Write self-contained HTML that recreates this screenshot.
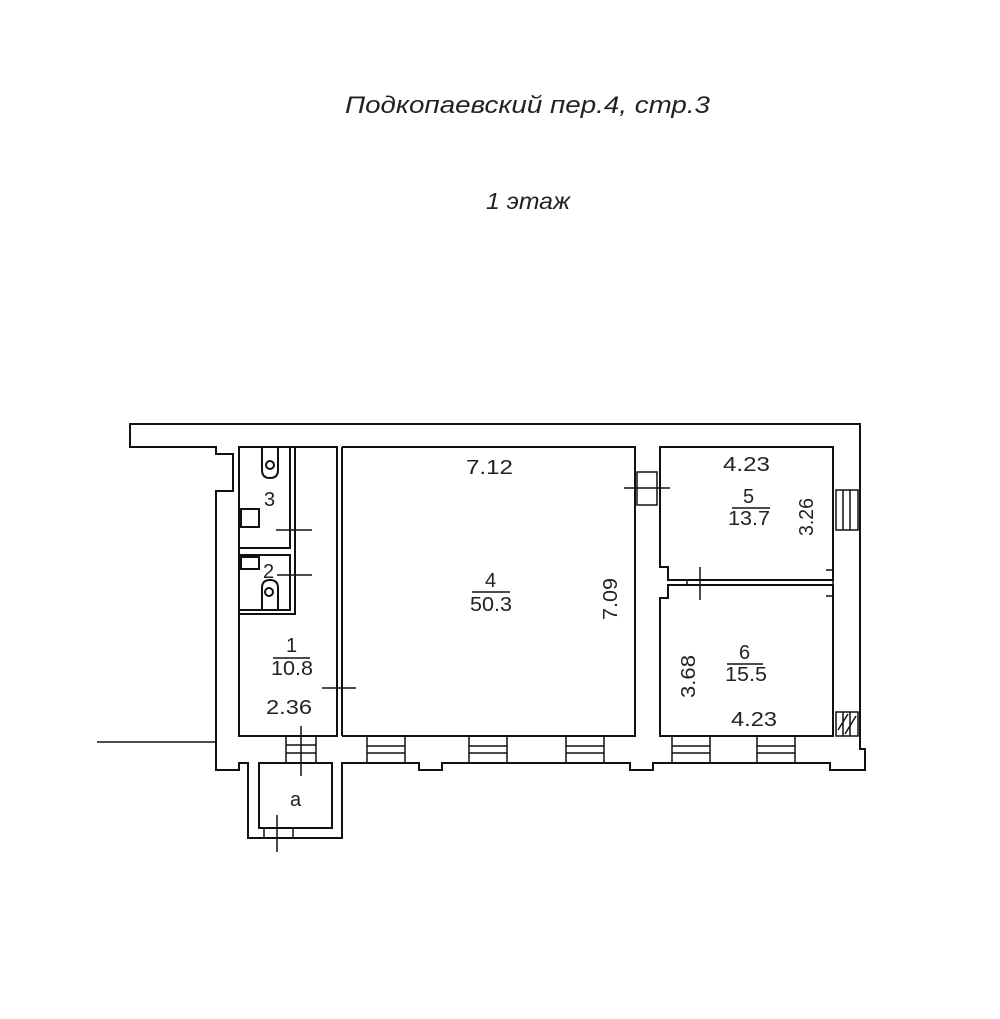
<!DOCTYPE html>
<html><head><meta charset="utf-8"><style>
html,body{margin:0;padding:0;background:#fff;width:1000px;height:1019px;overflow:hidden}
text{font-family:"Liberation Sans",sans-serif;fill:#222}
</style></head><body>
<svg width="1000" height="1019" viewBox="0 0 1000 1019" xmlns="http://www.w3.org/2000/svg">
<text x="345" y="113" font-size="24" font-style="italic" textLength="365" lengthAdjust="spacingAndGlyphs">Подкопаевский пер.4, стр.3</text>
<text x="486" y="209" font-size="23" font-style="italic" textLength="84" lengthAdjust="spacingAndGlyphs">1 этаж</text>
<g fill="none" stroke="#111" stroke-width="2">
<path d="M216,447 H130 V424 H860 V749 H865 V770 H830 V763 H653 V770 H630 V763 H442 V770 H419 V763 H342 V838 H248 V763 H239 V770 H216 V491 H233 V454 H216 Z"/>
<rect x="239" y="447" width="98" height="289"/>
<line x1="342" y1="447" x2="342" y2="736"/>
<path d="M342,447 H635 V736 H342"/>
<path d="M660,567 V447 H833 V580 H668 V567 Z"/>
<path d="M660,598 V736 H833 V585 H668 V598 Z"/>
<rect x="259" y="763" width="73" height="65"/>
<path d="M239,548 H290 V447 M239,555 H290 V610 H239 M295,447 V614 H239"/>
<path d="M262,447 V470 Q262,478 270,478 Q278,478 278,470 V447"/>
<circle cx="270" cy="465" r="4"/>
<path d="M262,610 V588 Q262,580 270,580 Q278,580 278,588 V610"/>
<circle cx="269" cy="592" r="4"/>
<rect x="241" y="509" width="18" height="18"/>
<rect x="241" y="557" width="18" height="12"/>
</g>
<g fill="none" stroke="#111" stroke-width="1.5">
<path d="M290,516 V548 M295,516 V548 M276,530 H312"/>
<path d="M290,555 V590 M295,555 V590 M277,575 H312"/>
<path d="M337,670 V705 M342,670 V705 M322,688 H356"/>
<path d="M637,472 H657 V505 H637 Z M624,488 H670"/>
<path d="M687,580 V585 M700,567 V600 M826,570 H833 V596 H826"/>
<path d="M836,490 H858 V530 H836 Z M843,490 V530 M850,490 V530"/>
<path d="M836,712 H858 V736 H836 Z M843,712 V736 M850,712 V736 M838,730 L848,714 M845,734 L856,716"/>
<path d="M286,736 H316 V763 H286 Z M286,745 H316 M286,753 H316 M301,726 V776"/>
<path d="M367,736 H405 V763 H367 Z M367,746 H405 M367,753 H405"/>
<path d="M469,736 H507 V763 H469 Z M469,746 H507 M469,753 H507"/>
<path d="M566,736 H604 V763 H566 Z M566,746 H604 M566,753 H604"/>
<path d="M672,736 H710 V763 H672 Z M672,746 H710 M672,753 H710"/>
<path d="M757,736 H795 V763 H757 Z M757,746 H795 M757,753 H795"/>
<path d="M264,828 V838 M293,828 V838 M277,815 V852"/>
<line x1="97" y1="742" x2="216" y2="742"/>
</g>
<g font-size="20" lengthAdjust="spacingAndGlyphs">
<text x="264" y="506">3</text>
<text x="263" y="578">2</text>
<text x="286" y="652">1</text>
<text x="271" y="675" textLength="42" lengthAdjust="spacingAndGlyphs">10.8</text>
<line x1="273" y1="658" x2="310" y2="658" stroke="#111" stroke-width="1.5"/>
<text x="266" y="714" textLength="46" lengthAdjust="spacingAndGlyphs">2.36</text>
<text x="290" y="806">a</text>
<text x="466" y="474" textLength="47" lengthAdjust="spacingAndGlyphs">7.12</text>
<text x="485" y="587">4</text>
<text x="470" y="611" textLength="42" lengthAdjust="spacingAndGlyphs">50.3</text>
<line x1="472" y1="592" x2="510" y2="592" stroke="#111" stroke-width="1.5"/>
<text x="0" y="0" transform="translate(617,620) rotate(-90)" textLength="42" lengthAdjust="spacingAndGlyphs">7.09</text>
<text x="723" y="471" textLength="47" lengthAdjust="spacingAndGlyphs">4.23</text>
<text x="743" y="503">5</text>
<text x="728" y="525" textLength="42" lengthAdjust="spacingAndGlyphs">13.7</text>
<line x1="732" y1="508" x2="770" y2="508" stroke="#111" stroke-width="1.5"/>
<text x="0" y="0" transform="translate(813,536) rotate(-90)" textLength="38" lengthAdjust="spacingAndGlyphs">3.26</text>
<text x="739" y="659">6</text>
<text x="725" y="681" textLength="42" lengthAdjust="spacingAndGlyphs">15.5</text>
<line x1="727" y1="664" x2="763" y2="664" stroke="#111" stroke-width="1.5"/>
<text x="0" y="0" transform="translate(695,698) rotate(-90)" textLength="43" lengthAdjust="spacingAndGlyphs">3.68</text>
<text x="731" y="726" textLength="46" lengthAdjust="spacingAndGlyphs">4.23</text>
</g>
</svg>
</body></html>
